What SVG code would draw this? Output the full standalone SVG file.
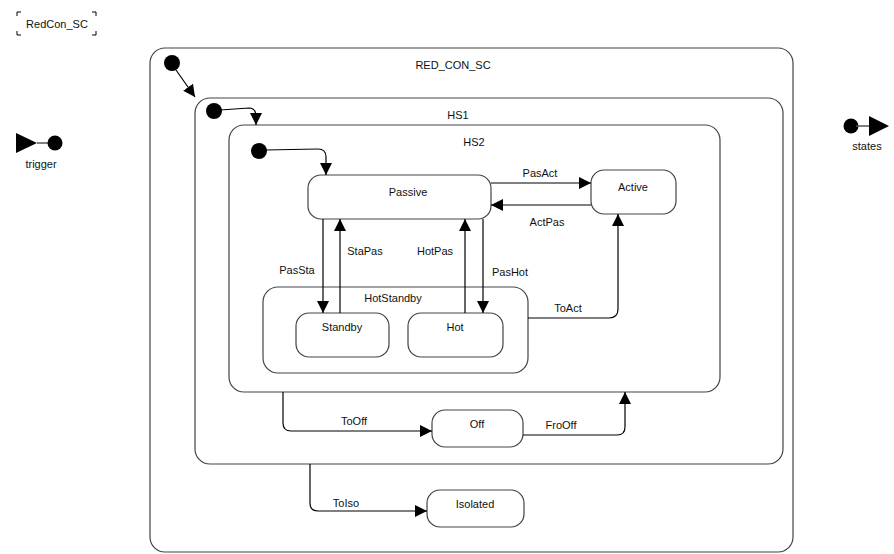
<svg xmlns="http://www.w3.org/2000/svg" width="894" height="554" viewBox="0 0 894 554">
<style>
  text { font-family: "Liberation Sans", Arial, sans-serif; font-size: 11px; fill: #111; }
  .c { text-anchor: middle; }
  .box { fill: #fff; stroke: #444; stroke-width: 1.2; }
  .edge { fill: none; stroke: #000; stroke-width: 1.2; }
  .dot { fill: #000; }
  .brk { fill: none; stroke: #000; stroke-width: 1; }
</style>
<defs>
  <marker id="ah" viewBox="0 0 12 12" refX="12" refY="6" markerWidth="12" markerHeight="12" markerUnits="userSpaceOnUse" orient="auto">
    <path d="M0,0 L12,6 L0,12 Z" fill="#000"/>
  </marker>
</defs>
<rect width="894" height="554" fill="#fff"/>

<!-- chart name -->
<g id="title">
  <path class="brk" d="M17,16 V12 H21 M92,12 H96 V16 M17,31 V35 H21 M92,35 H96 V31"/>
  <text x="57" y="28" class="c">RedCon_SC</text>
</g>

<!-- ports -->
<g id="trigger">
  <path d="M16,133 L37,143 L16,153 Z" fill="#000"/>
  <line x1="37" y1="143" x2="50" y2="143" stroke="#555" stroke-width="1.5"/>
  <circle cx="55" cy="143" r="7.5" class="dot"/>
  <text x="41" y="168" class="c">trigger</text>
</g>
<g id="states">
  <circle cx="851" cy="126" r="7.5" class="dot"/>
  <line x1="856" y1="126" x2="869" y2="126" stroke="#555" stroke-width="1.5"/>
  <path d="M869,116 L889,126 L869,136 Z" fill="#000"/>
  <text x="867" y="150" class="c">states</text>
</g>

<!-- superstates -->
<g id="RED_CON_SC">
  <rect class="box" x="150" y="48" width="643" height="504" rx="15"/>
  <text x="453" y="69" class="c">RED_CON_SC</text>
</g>
<g id="HS1">
  <rect class="box" x="195" y="98" width="588" height="366" rx="15"/>
  <text x="458" y="119" class="c">HS1</text>
</g>
<g id="HS2">
  <rect class="box" x="229" y="125" width="491" height="267" rx="15"/>
  <text x="474" y="146" class="c">HS2</text>
</g>
<g id="HotStandby">
  <rect class="box" x="263" y="287" width="265" height="86" rx="15"/>
  <text x="393" y="302" class="c">HotStandby</text>
</g>

<!-- states -->
<g id="Passive">
  <rect class="box" x="308" y="175" width="183" height="44" rx="13"/>
  <text x="408" y="196" class="c">Passive</text>
</g>
<g id="Active">
  <rect class="box" x="591" y="170" width="85" height="44" rx="13"/>
  <text x="633" y="191" class="c">Active</text>
</g>
<g id="Standby">
  <rect class="box" x="296" y="313" width="93" height="44" rx="13"/>
  <text x="342" y="331" class="c">Standby</text>
</g>
<g id="Hot">
  <rect class="box" x="408" y="313" width="95" height="44" rx="13"/>
  <text x="455" y="331" class="c">Hot</text>
</g>
<g id="Off">
  <rect class="box" x="432" y="410" width="91" height="37" rx="13"/>
  <text x="477" y="428" class="c">Off</text>
</g>
<g id="Isolated">
  <rect class="box" x="427" y="490" width="97" height="37" rx="13"/>
  <text x="475" y="508" class="c">Isolated</text>
</g>

<!-- default transitions -->
<g id="defaults">
  <circle cx="172" cy="63" r="8" class="dot"/>
  <circle cx="214" cy="111" r="8" class="dot"/>
  <circle cx="259" cy="151" r="8" class="dot"/>
</g>

<!-- transitions -->
<g id="connectors">
  <path class="edge" marker-end="url(#ah)" d="M176,70 L195,97"/>
  <path class="edge" marker-end="url(#ah)" d="M220,110 L249,108 Q256,108 256,117 L256,125"/>
  <path class="edge" marker-end="url(#ah)" d="M265,150 L318,149 Q326,149 326,157 L326,175"/>

  <path class="edge" marker-end="url(#ah)" d="M491,183 L591,183"/>
  <path class="edge" marker-end="url(#ah)" d="M591,205 L491,205"/>

  <path class="edge" marker-end="url(#ah)" d="M323,219 L323,313"/>
  <path class="edge" marker-end="url(#ah)" d="M340,313 L340,219"/>
  <path class="edge" marker-end="url(#ah)" d="M465,313 L465,219"/>
  <path class="edge" marker-end="url(#ah)" d="M483,219 L483,313"/>

  <path class="edge" marker-end="url(#ah)" d="M528,318 L609,318 Q618,318 618,309 L618,214"/>

  <path class="edge" marker-end="url(#ah)" d="M283,392 L283,423 Q283,431 291,431 L432,431"/>
  <path class="edge" marker-end="url(#ah)" d="M523,435 L617,435 Q625,435 625,427 L625,392"/>
  <path class="edge" marker-end="url(#ah)" d="M310,464 L310,503 Q310,511 318,511 L427,511"/>
</g>

<!-- transition labels -->
<g id="labels">
  <text x="540" y="177" class="c">PasAct</text>
  <text x="547" y="226" class="c">ActPas</text>
  <text x="297" y="274" class="c">PasSta</text>
  <text x="365" y="255" class="c">StaPas</text>
  <text x="435" y="255" class="c">HotPas</text>
  <text x="510" y="276" class="c">PasHot</text>
  <text x="568" y="312" class="c">ToAct</text>
  <text x="354" y="425" class="c">ToOff</text>
  <text x="561" y="429" class="c">FroOff</text>
  <text x="346" y="507" class="c">ToIso</text>
</g>
</svg>
